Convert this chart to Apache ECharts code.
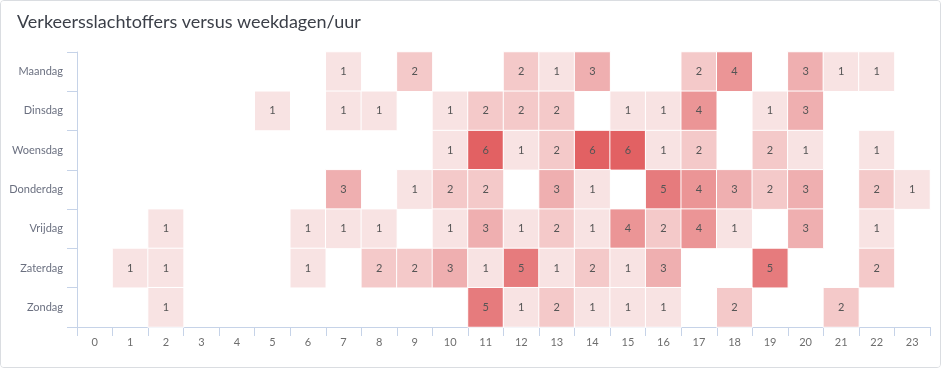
<!DOCTYPE html>
<html><head><meta charset="utf-8">
<script src="https://cdn.jsdelivr.net/npm/echarts@6/dist/echarts.min.js"></script>
<style>
html,body{margin:0;padding:0;background:#fff;}
#wrap{position:absolute;left:0;top:0;width:941px;height:368px;box-sizing:border-box;border:1px solid #dadde1;border-radius:4px;overflow:hidden;}
#c{width:939px;height:366px;}
</style></head>
<body><div id="wrap"><div id="c"></div></div>
<script>
const titleText = 'Verkeersslachtoffers versus weekdagen/uur';
const hours = ['0','1','2','3','4','5','6','7','8','9','10','11','12','13','14','15','16','17','18','19','20','21','22','23'];
const days = ['Maandag','Dinsdag','Woensdag','Donderdag','Vrijdag','Zaterdag','Zondag'];
// [hour, count] per day
const maandag   = [[7,1],[9,2],[12,2],[13,1],[14,3],[17,2],[18,4],[20,3],[21,1],[22,1]];
const dinsdag   = [[5,1],[7,1],[8,1],[10,1],[11,2],[12,2],[13,2],[15,1],[16,1],[17,4],[19,1],[20,3]];
const woensdag  = [[10,1],[11,6],[12,1],[13,2],[14,6],[15,6],[16,1],[17,2],[19,2],[20,1],[22,1]];
const donderdag = [[7,3],[9,1],[10,2],[11,2],[13,3],[14,1],[16,5],[17,4],[18,3],[19,2],[20,3],[22,2],[23,1]];
const vrijdag   = [[2,1],[6,1],[7,1],[8,1],[10,1],[11,3],[12,1],[13,2],[14,1],[15,4],[16,2],[17,4],[18,1],[20,3],[22,1]];
const zaterdag  = [[1,1],[2,1],[6,1],[8,2],[9,2],[10,3],[11,1],[12,5],[13,1],[14,2],[15,1],[16,3],[19,5],[22,2]];
const zondag    = [[2,1],[11,5],[12,1],[13,2],[14,1],[15,1],[16,1],[18,2],[21,2]];
const perDay = [maandag,dinsdag,woensdag,donderdag,vrijdag,zaterdag,zondag];

const data = [];
perDay.forEach((arr, d) => arr.forEach(([h, v]) => data.push([h, d, v])));

const axisColor = '#c6d3e8';
const chart = echarts.init(document.getElementById('c'), null, {renderer:'canvas'});
chart.setOption({
  animation: false,
  backgroundColor: '#fff',
  title: {
    text: titleText, left: 11, top: 7,
    textStyle: {fontFamily: 'Lato', fontSize: 18, fontWeight: 'normal', color: '#3b3f48'}
  },
  grid: {left: 76, right: 10, top: 51, bottom: 40},
  xAxis: {
    type: 'category', data: hours,
    axisLine: {show: true, lineStyle: {color: axisColor}},
    axisTick: {show: true, length: 9, alignWithLabel: false, lineStyle: {color: axisColor}},
    axisLabel: {color: '#6e6e6e', fontFamily: 'Lato', fontSize: 11, margin: 10},
    splitLine: {show: false}
  },
  yAxis: {
    type: 'category', data: days, inverse: true,
    axisLine: {show: true, lineStyle: {color: axisColor}},
    axisTick: {show: true, length: 10, alignWithLabel: false, lineStyle: {color: axisColor}},
    axisLabel: {color: '#6b7080', fontFamily: 'Lato', fontSize: 11, margin: 14},
    splitLine: {show: false}
  },
  visualMap: {
    show: false, type: 'continuous', min: 1, max: 6, dimension: 2,
    inRange: {color: ['#f8e3e3', '#e26163']}
  },
  series: [{
    type: 'heatmap', data: data,
    itemStyle: {borderColor: '#fff', borderWidth: 1},
    label: {show: true, color: '#555', fontFamily: 'Lato', fontSize: 11},
    emphasis: {disabled: true}
  }]
});
</script></body></html>
